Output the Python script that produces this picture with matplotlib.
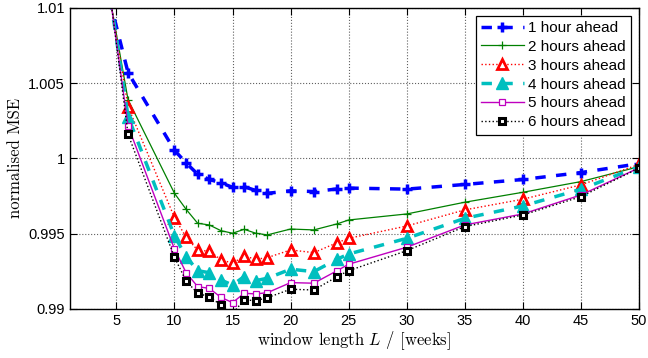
import matplotlib
matplotlib.use("Agg")
import matplotlib.pyplot as plt
from matplotlib.ticker import FixedLocator

L = [4, 6, 10, 11, 12, 13, 14, 15, 16, 17, 18, 20, 22, 24, 25, 30, 35, 40, 45, 50]

h1 = [1.0118, 1.0057, 1.00054, 0.99970, 0.99895, 0.99860, 0.99838, 0.99808, 0.99812,
      0.99787, 0.99768, 0.99785, 0.99780, 0.99797, 0.99803, 0.99796, 0.99827, 0.99860,
      0.99906, 0.99965]
h2 = [1.0126, 1.00390, 0.99768, 0.99662, 0.99569, 0.99558, 0.99520, 0.99503, 0.99529,
      0.99503, 0.99492, 0.99531, 0.99525, 0.99565, 0.99591, 0.99631, 0.99709, 0.99775,
      0.99846, 0.99945]
h3 = [1.0128, 1.00344, 0.99607, 0.99477, 0.99390, 0.99384, 0.99328, 0.99303, 0.99352,
      0.99330, 0.99341, 0.99392, 0.99374, 0.99440, 0.99469, 0.99551, 0.99658, 0.99729,
      0.99824, 0.99960]
h4 = [1.0131, 1.00278, 0.99485, 0.99347, 0.99254, 0.99241, 0.99192, 0.99159, 0.99215,
      0.99188, 0.99204, 0.99264, 0.99248, 0.99330, 0.99365, 0.99469, 0.99602, 0.99684,
      0.99795, 0.99945]
h5 = [1.0133, 1.00216, 0.99398, 0.99241, 0.99148, 0.99137, 0.99077, 0.99042, 0.99104,
      0.99100, 0.99108, 0.99175, 0.99171, 0.99254, 0.99297, 0.99410, 0.99558, 0.99631,
      0.99757, 0.99937]
h6 = [1.0136, 1.00161, 0.99343, 0.99186, 0.99104, 0.99081, 0.99026, 0.98970, 0.99060,
      0.99055, 0.99075, 0.99131, 0.99126, 0.99214, 0.99254, 0.99387, 0.99547, 0.99624,
      0.99746, 0.99935]

labels = ["1 hour ahead", "2 hours ahead", "3 hours ahead",
          "4 hours ahead", "5 hours ahead", "6 hours ahead"]
xticks = [5, 10, 15, 20, 25, 30, 35, 40, 45, 50]
yticks = [0.99, 0.995, 1.0, 1.005, 1.01]
ytick_labels = ["0.99", "0.995", "1", "1.005", "1.01"]

plt.rcParams['mathtext.fontset'] = 'cm'
plt.rcParams['font.family'] = ['Liberation Sans', 'DejaVu Sans']

fig = plt.figure(figsize=(6.48, 3.58), dpi=100)
ax = fig.add_axes([0.108, 0.137, 0.878, 0.841])

ax.plot(L, h1, color='#0000ff', ls='--', lw=2.5, marker='+', ms=7.5, mew=2.5,
        dashes=(3, 3), label=labels[0])
ax.plot(L, h2, color='#008000', ls='-', lw=0.9, marker='+', ms=6, mew=0.9,
        label=labels[1])
ax.plot(L, h3, color='#ff0000', ls=':', lw=1.0, marker='^', ms=7.5, mew=2,
        mfc='white', label=labels[2])
ax.plot(L, h4, color='#00bfbf', ls='--', lw=2.5, marker='^', ms=8, mew=1,
        dashes=(3, 3), label=labels[3])
ax.plot(L, h5, color='#bf00bf', ls='-', lw=1.0, marker='s', ms=4.5, mew=0.9,
        mfc='white', label=labels[4])
ax.plot(L, h6, color='black', ls=':', lw=1.0, marker='s', ms=4.5, mew=2.2,
        mfc='white', label=labels[5])

ax.set_xlim(1, 50)
ax.set_ylim(0.99, 1.01)
ax.xaxis.set_major_locator(FixedLocator(xticks))
ax.yaxis.set_major_locator(FixedLocator(yticks))
ax.set_yticklabels(ytick_labels)
ax.tick_params(direction='in', top=True, right=True, labelsize=10.5, length=5, width=0.8)
ax.grid(True, ls=':', color='#606060', lw=0.8)
for s in ax.spines.values():
    s.set_linewidth(1.0)

ax.set_xlabel(r'window length $L$ / [weeks]', family='cmr10', fontsize=12, labelpad=1)
ax.set_ylabel('normalised MSE', family='cmr10', fontsize=12, labelpad=4)

leg = ax.legend(loc='upper right', fontsize=11, handlelength=2.8, fancybox=False,
                framealpha=1, edgecolor='black', borderpad=0.35, labelspacing=0.32,
                handletextpad=0.3, borderaxespad=0.5)
leg.get_frame().set_linewidth(0.9)

fig.savefig('out.png', dpi=100)
